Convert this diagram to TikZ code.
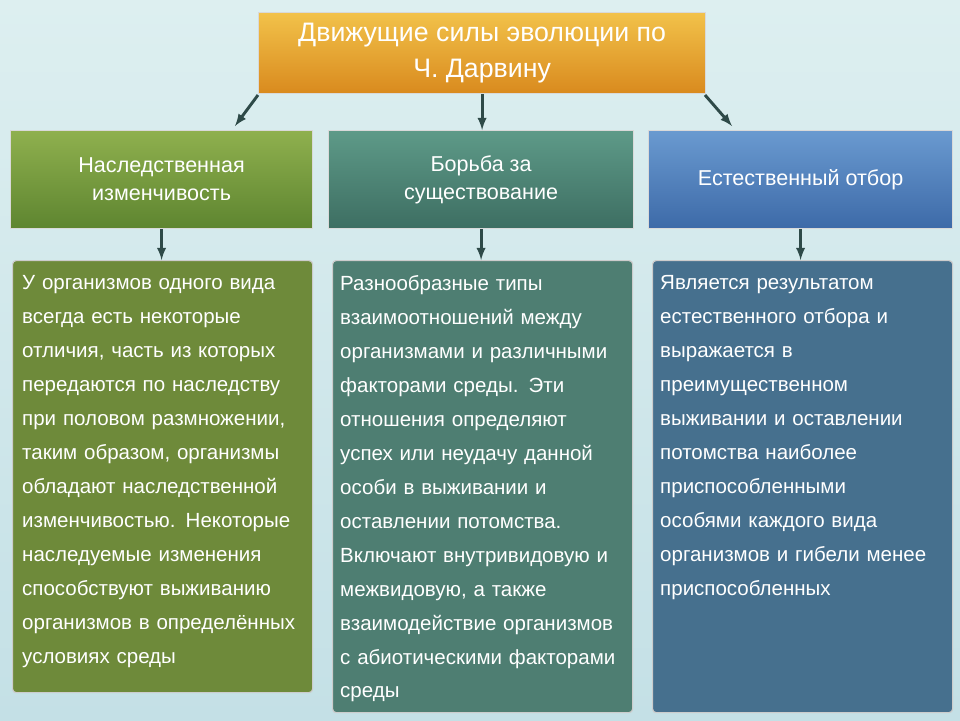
\documentclass[tikz,border=0pt]{standalone}
\usepackage{fontspec}
\setmainfont{Liberation Sans}
\usetikzlibrary{positioning}
\definecolor{bgtop}{HTML}{DDEFF0}
\definecolor{bgbot}{HTML}{C4E0E6}
\definecolor{arrowc}{HTML}{2E4A48}
\definecolor{orangetop}{HTML}{F2C24A}
\definecolor{orangebot}{HTML}{D98A1E}
\definecolor{greentop}{HTML}{8FB04E}
\definecolor{greenbot}{HTML}{5E8530}
\definecolor{tealtop}{HTML}{5E9A88}
\definecolor{tealbot}{HTML}{3D6E62}
\definecolor{bluetop}{HTML}{6A9AD0}
\definecolor{bluebot}{HTML}{3D6AA8}
\definecolor{gbody}{HTML}{6E8A3A}
\definecolor{tbody}{HTML}{4E7E72}
\definecolor{bbody}{HTML}{46708E}
\tikzset{
  head box/.style={draw=white!70!gray,line width=1pt,text=white,align=center,
    font=\fontsize{18.4}{24}\selectfont,anchor=north west,inner sep=0pt},
  body box/.style={draw=white!60!gray,line width=1pt,rounded corners=3pt,
    anchor=north west,inner sep=0pt},
  body text/.style={text=white,align=left,font=\fontsize{17.5}{29}\selectfont,
    anchor=north west,inner sep=0pt,text width=290*0.03cm}
}
\begin{document}
\begin{tikzpicture}[x=0.03cm,y=-0.03cm,link/.style={-latex,draw=arrowc,line width=2.5pt}]
\shade[top color=bgtop,bottom color=bgbot] (0,0) rectangle (960,720);
\useasboundingbox (0,0) rectangle (960,720);
% title
\node[head box,top color=orangetop,bottom color=orangebot,minimum width=447*0.03cm,
  minimum height=81*0.03cm,font=\fontsize{22.8}{31}\selectfont] (title) at (258,12)
  {Движущие силы эволюции по\\Ч. Дарвину};
% level two
\node[head box,top color=greentop,bottom color=greenbot,minimum width=302*0.03cm,
  minimum height=98*0.03cm] (herit) at (10,130) {Наследственная\\изменчивость};
\node[head box,top color=tealtop,bottom color=tealbot,minimum width=305*0.03cm,
  minimum height=98*0.03cm] (strug) at (328,130) {Борьба за\\существование};
\node[head box,top color=bluetop,bottom color=bluebot,minimum width=304*0.03cm,
  minimum height=98*0.03cm] (selec) at (648,130) {Естественный отбор};
% level three
\node[body box,fill=gbody,minimum width=300*0.03cm,minimum height=432*0.03cm] (herbox) at (12,260) {};
\node[body box,fill=tbody,minimum width=300*0.03cm,minimum height=452*0.03cm] (strbox) at (332,260) {};
\node[body box,fill=bbody,minimum width=300*0.03cm,minimum height=452*0.03cm] (selbox) at (652,260) {};
\node[body text] (hertext) at (22,275)
  {У организмов одного вида\\всегда есть некоторые\\отличия, часть из которых\\передаются по наследству\\при половом размножении,\\таким образом, организмы\\обладают наследственной\\изменчивостью. Некоторые\\наследуемые изменения\\способствуют выживанию\\организмов в определённых\\условиях среды};
\node[body text] (strtext) at (340,275)
  {Разнообразные типы\\взаимоотношений между\\организмами и различными\\факторами среды. Эти\\отношения определяют\\успех или неудачу данной\\особи в выживании и\\оставлении потомства.\\Включают внутривидовую и\\межвидовую, а также\\взаимодействие организмов\\с абиотическими факторами\\среды};
\node[body text] (seltext) at (660,275)
  {Является результатом\\естественного отбора и\\выражается в\\преимущественном\\выживании и оставлении\\потомства наиболее\\приспособленными\\особями каждого вида\\организмов и гибели менее\\приспособленных};
% arrows
\coordinate (tl) at (258,95);
\coordinate (tr) at (705,95);
\draw[link] (tl) -- (235,126);
\draw[link] (title.south) -- (title.south |- strug.north);
\draw[link] (tr) -- (732,126);
\draw[link] (herit.south) -- (herit.south |- herbox.north);
\draw[link] (strug.south) -- (strug.south |- strbox.north);
\draw[link] (selec.south) -- (selec.south |- selbox.north);
\end{tikzpicture}
\end{document}
